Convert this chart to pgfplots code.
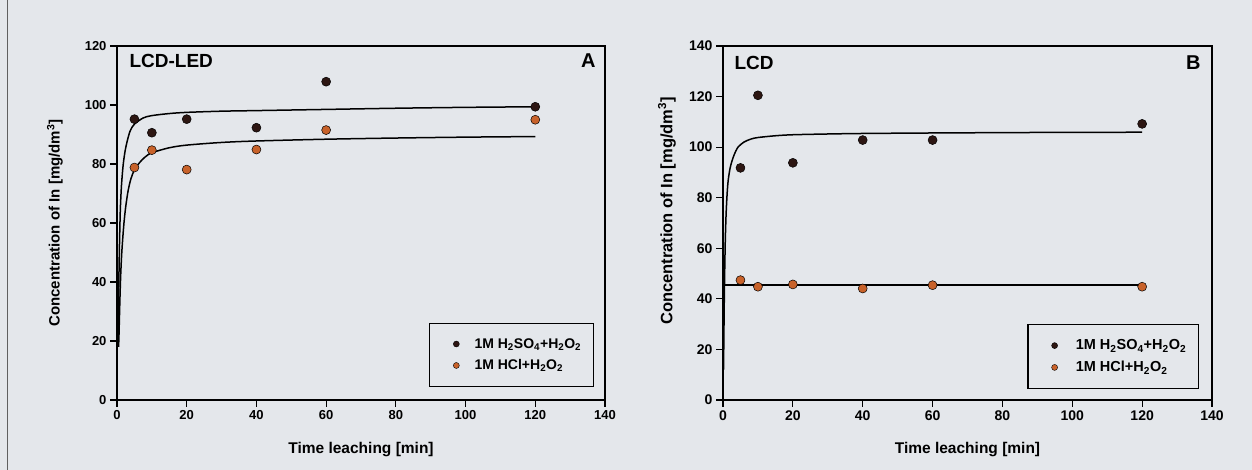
\documentclass[border=0pt]{standalone}
\usepackage{fontspec}
\setmainfont{Liberation Sans}
\usepackage{pgfplots}
\pgfplotsset{compat=1.18}
\definecolor{bg}{RGB}{228,231,235}
\definecolor{sulf}{RGB}{45,22,18}
\definecolor{hcl}{RGB}{200,98,42}
\newcommand{\lblfont}{\bfseries\fontsize{15.5}{16}\selectfont}
\newcommand{\tickA}{\fontsize{13}{14}\selectfont\bfseries}
\newcommand{\tickB}{\fontsize{14}{15}\selectfont\bfseries}
\pgfplotsset{
  panel/.style={
    scale only axis, width=488pt, height=354pt,
    xmin=0, xmax=140, xtick={0,20,...,140}, ymin=0,
    axis line style={line width=1.3pt},
    tick style={line width=1.2pt, black},
    major tick length=7pt, tick align=outside, tick pos=left,
    /pgf/number format/assume math mode=true,
    xlabel={Time leaching [min]},
    ylabel={Concentration of In [mg/dm\textsuperscript{3}]},
    every axis x label/.style={at={(axis description cs:0.5,-0.1525)}, anchor=base, font=\lblfont},
    legend cell align=left,
    legend style={draw=black, line width=1.2pt, fill=none,
      inner xsep=10pt, inner ysep=13pt, row sep=6pt},
  },
  pts/.style={only marks, mark=*, mark size=4.5pt, mark options={fill=#1, draw=black, line width=0.5pt}, forget plot},
  fit/.style={black, line width=1.5pt, smooth, tension=0.5, no markers, forget plot},
}
\begin{document}
\begin{tikzpicture}
\path[use as bounding box, fill=bg] (0,0) rectangle (1252pt,470pt);
\draw[gray!75!black, line width=1pt] (7pt,0) -- (7pt,470pt);
% ---------------- Panel A ----------------
\begin{axis}[panel, at={(117pt,70pt)}, anchor=south west,
  ymax=120, ytick={0,20,...,120},
  xticklabel={\tickA\pgfmathprintnumber{\tick}},
  yticklabel={\tickA\pgfmathprintnumber{\tick}},
  every axis y label/.style={at={(axis description cs:-0.104,0.5)}, rotate=90, anchor=south, font=\bfseries\fontsize{15}{16}\selectfont},
  legend style={at={(0.977,0.037)}, anchor=south east,
    font=\bfseries\fontsize{14}{16}\selectfont,
    /tikz/every odd column/.append style={column sep=13pt}}]
\addplot[fit] coordinates {(0.3,18) (0.4,28) (0.5,38) (0.67,50) (0.85,60) (1,66) (1.3,73) (1.8,80) (2.5,85.5) (3.7,91) (5,93.5) (7.5,95.6) (10,96.4) (15,97.1) (20,97.5) (30,97.9) (40,98.1) (60,98.5) (80,98.9) (100,99.2) (120,99.4)};
\addplot[fit] coordinates {(0.45,18) (0.57,22) (0.7,28) (0.86,35) (1.05,42) (1.3,48.5) (1.6,54) (2,60) (2.5,65.5) (3.2,71) (4,75) (5,78) (6.5,80.5) (8,82.3) (10,83.8) (15,85.5) (20,86.4) (30,87.3) (40,87.8) (60,88.4) (80,88.8) (100,89.1) (120,89.3)};
\addplot[pts=sulf] coordinates {(5,95.2) (10,90.6) (20,95.2) (40,92.3) (60,107.9) (120,99.4)};
\addplot[pts=hcl] coordinates {(5,78.8) (10,84.7) (20,78.1) (40,84.9) (60,91.5) (120,95.0)};
\addlegendimage{legend image code/.code={\path (0pt,0pt); \filldraw[fill=sulf,draw=black,line width=0.4pt] (16pt,0pt) circle (3pt);}}
\addlegendentry{1M H\textsubscript{2}SO\textsubscript{4}+H\textsubscript{2}O\textsubscript{2}}
\addlegendimage{legend image code/.code={\path (0pt,0pt); \filldraw[fill=hcl,draw=black,line width=0.4pt] (16pt,0pt) circle (3pt);}}
\addlegendentry{1M HCl+H\textsubscript{2}O\textsubscript{2}}
\node[anchor=base west, font=\bfseries\fontsize{19}{19}\selectfont, xshift=9pt, yshift=-22pt] at (rel axis cs:0,1) {LCD-LED};
\node[anchor=base east, font=\bfseries\fontsize{20}{20}\selectfont, xshift=-6pt, yshift=-22pt] at (rel axis cs:1,1) {A};
\end{axis}
% ---------------- Panel B ----------------
\begin{axis}[panel, at={(723pt,70pt)}, anchor=south west, width=489pt,
  ymax=140, ytick={0,20,...,140},
  xticklabel={\tickB\pgfmathprintnumber{\tick}},
  yticklabel={\tickB\pgfmathprintnumber{\tick}},
  every axis y label/.style={at={(axis description cs:-0.089,0.534)}, rotate=90, anchor=south, font=\bfseries\fontsize{16.5}{17}\selectfont},
  legend style={at={(0.973,0.031)}, anchor=south east,
    font=\bfseries\fontsize{14.5}{16.5}\selectfont,
    /tikz/every odd column/.append style={column sep=16pt}}]
\addplot[fit] coordinates {(0.15,12) (0.25,25) (0.35,38) (0.5,52) (0.67,64) (0.9,74) (1.2,82) (1.5,87) (2,91.5) (2.5,94.2) (3.2,97) (4.3,100) (6,102) (8,103.2) (10,103.8) (15,104.5) (20,104.9) (30,105.2) (40,105.4) (60,105.6) (90,105.8) (120,105.9)};
\addplot[black, line width=1.5pt, forget plot] coordinates {(0,45.4) (120,45.4)};
\addplot[pts=sulf] coordinates {(5,91.8) (10,120.5) (20,93.8) (40,102.8) (60,102.8) (120,109.2)};
\addplot[pts=hcl] coordinates {(5,47.4) (10,44.8) (20,45.7) (40,44.1) (60,45.4) (120,44.8)};
\addlegendimage{legend image code/.code={\path (0pt,0pt); \filldraw[fill=sulf,draw=black,line width=0.4pt] (16pt,0pt) circle (3pt);}}
\addlegendentry{1M H\textsubscript{2}SO\textsubscript{4}+H\textsubscript{2}O\textsubscript{2}}
\addlegendimage{legend image code/.code={\path (0pt,0pt); \filldraw[fill=hcl,draw=black,line width=0.4pt] (16pt,0pt) circle (3pt);}}
\addlegendentry{1M HCl+H\textsubscript{2}O\textsubscript{2}}
\node[anchor=base west, font=\bfseries\fontsize{19}{19}\selectfont, xshift=8pt, yshift=-24pt] at (rel axis cs:0,1) {LCD};
\node[anchor=base east, font=\bfseries\fontsize{20}{20}\selectfont, xshift=-8pt, yshift=-24pt] at (rel axis cs:1,1) {B};
\end{axis}
\end{tikzpicture}
\end{document}
